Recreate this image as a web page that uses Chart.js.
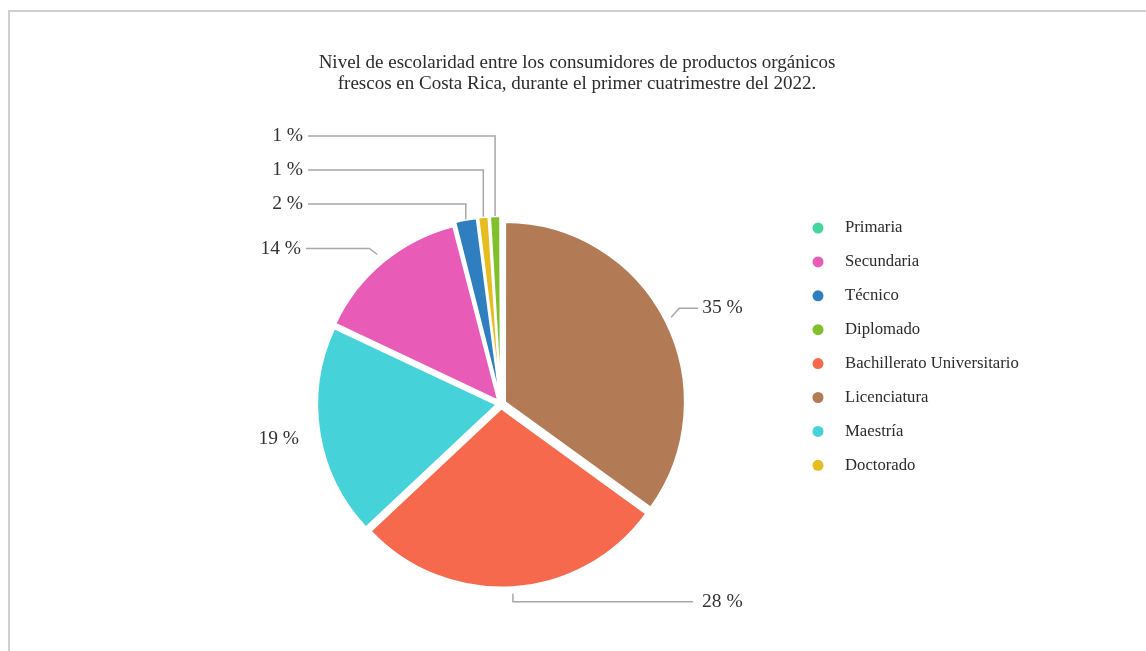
<!DOCTYPE html>
<html><head><meta charset="utf-8">
<script src="https://cdn.jsdelivr.net/npm/chart.js@4.4.1/dist/chart.umd.min.js"></script>
<style>
html,body{margin:0;padding:0;background:#fff;overflow:hidden;}
#wrap{position:absolute;left:0;top:0;width:1146px;height:651px;}
#frame{position:absolute;left:8px;top:10px;width:1160px;height:660px;border-top:2px solid #cfcfcf;border-left:2px solid #cfcfcf;}
canvas{position:absolute;left:0;top:0;}
</style></head><body>
<div id="wrap"><div id="frame"></div><canvas id="c" width="1146" height="651"></canvas></div>
<script>
// ---- data ----
const titleLines = [
  'Nivel de escolaridad entre los consumidores de productos orgánicos',
  'frescos en Costa Rica, durante el primer cuatrimestre del 2022.'
];
const categories = ['Licenciatura','Bachillerato Universitario','Maestría','Secundaria','Técnico','Doctorado','Diplomado','Primaria'];
const values = [35, 28, 19, 14, 2, 1, 1, 0];
const colors = ['#b27b55','#f7694c','#46d2d9','#e85cb8','#2f7fc0','#e6bd1e','#80c02b','#45d69f'];
const legendOrder = ['Primaria','Secundaria','Técnico','Diplomado','Bachillerato Universitario','Licenciatura','Maestría','Doctorado'];
const calloutKinds = ['diagRight','downRight','plain','diagLeft','stack','stack','stack','none'];

const FONT = '"Liberation Serif", "Times New Roman", serif';

const decorPlugin = {
  id: 'decor',
  afterDraw(chart) {
    const ctx = chart.ctx;
    ctx.save();
    // title
    ctx.fillStyle = '#2b2b2b';
    ctx.font = '19px ' + FONT;
    ctx.textAlign = 'center';
    ctx.textBaseline = 'middle';
    titleLines.forEach((t, i) => ctx.fillText(t, 577, 63 + i * 21));

    // legend
    ctx.font = '16.7px ' + FONT;
    ctx.textAlign = 'left';
    legendOrder.forEach((name, i) => {
      const idx = categories.indexOf(name);
      const y = 228 + i * 33.9;
      ctx.beginPath();
      ctx.fillStyle = colors[idx];
      ctx.arc(818, y, 5.5, 0, Math.PI * 2);
      ctx.fill();
      ctx.fillStyle = '#2b2b2b';
      ctx.fillText(name, 845, y);
    });

    // callouts
    const meta = chart.getDatasetMeta(0);
    ctx.strokeStyle = '#a8a8a8';
    ctx.lineWidth = 1.5;
    ctx.font = '19.5px ' + FONT;
    let stackK = 0;
    meta.data.forEach((arc, i) => {
      if (!values[i]) return;
      const p = arc.getProps(['x','y','startAngle','endAngle','outerRadius'], true);
      const mid = (p.startAngle + p.endAngle) / 2;
      const c = Math.cos(mid), s = Math.sin(mid);
      const pt = (r) => ({x: p.x + c * r, y: p.y + s * r});
      const txt = values[i] + ' %';
      const kind = calloutKinds[i];
      ctx.fillStyle = '#333';
      ctx.beginPath();
      if (kind === 'diagRight') {
        const a = pt(p.outerRadius + 12);
        const b = {x: a.x + 8, y: a.y - 9};
        const e = {x: b.x + 19, y: b.y};
        ctx.moveTo(a.x, a.y); ctx.lineTo(b.x, b.y); ctx.lineTo(e.x, e.y); ctx.stroke();
        ctx.textAlign = 'left'; ctx.fillText(txt, e.x + 4, e.y);
      } else if (kind === 'downRight') {
        const a = pt(p.outerRadius + 11);
        const b = {x: a.x, y: a.y + 8};
        const e = {x: p.x + 192, y: b.y};
        ctx.moveTo(a.x, a.y); ctx.lineTo(b.x, b.y); ctx.lineTo(e.x, e.y); ctx.stroke();
        ctx.textAlign = 'left'; ctx.fillText(txt, e.x + 9, e.y);
      } else if (kind === 'plain') {
        const a = pt(p.outerRadius + 46);
        ctx.textAlign = 'center'; ctx.fillText(txt, a.x, a.y);
      } else if (kind === 'diagLeft') {
        const a = pt(p.outerRadius + 15);
        const b = {x: a.x - 8, y: a.y - 6};
        const e = {x: p.x - 195, y: b.y};
        ctx.moveTo(a.x, a.y); ctx.lineTo(b.x, b.y); ctx.lineTo(e.x, e.y); ctx.stroke();
        ctx.textAlign = 'right'; ctx.fillText(txt, e.x - 5, e.y);
      } else if (kind === 'stack') {
        const a = pt(p.outerRadius + 9);
        const ly = p.y - p.outerRadius - 21 - stackK * 34;
        stackK++;
        const e = {x: p.x - 193, y: ly};
        ctx.moveTo(a.x, a.y); ctx.lineTo(a.x, ly); ctx.lineTo(e.x, e.y); ctx.stroke();
        ctx.textAlign = 'right'; ctx.fillText(txt, e.x - 5, e.y);
      }
    });
    ctx.restore();
  }
};

new Chart(document.getElementById('c'), {
  type: 'pie',
  data: {
    labels: categories,
    datasets: [{
      data: values,
      backgroundColor: colors,
      borderColor: '#ffffff',
      borderWidth: 2,
      offset: 18,
      hoverOffset: 0,
      radius: 179
    }]
  },
  options: {
    responsive: false,
    animation: false,
    devicePixelRatio: 1,
    layout: { padding: { left: 100, right: 244, top: 200, bottom: 43 } },
    plugins: {
      legend: { display: false },
      title: { display: false },
      tooltip: { enabled: false }
    }
  },
  plugins: [decorPlugin]
});
</script>
</body></html>
